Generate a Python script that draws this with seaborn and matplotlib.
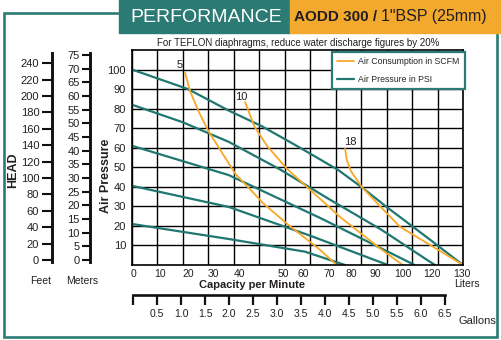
import numpy as np
import pandas as pd
import matplotlib
matplotlib.use("Agg")
import matplotlib.pyplot as plt
from matplotlib.patches import Rectangle
from matplotlib.lines import Line2D
import seaborn as sns

# ---------------- data ----------------
# Air pressure curves (PSI)  x = litres/min, y = air pressure
p100_x = [0, 22, 38, 51, 66, 81, 90, 100, 116, 130]
p100_y = [100, 90, 79, 71, 60, 48.6, 40, 29.7, 14, 0]
p80_x = [0, 20, 38, 58, 77, 98, 116, 119]
p80_y = [82, 73, 63, 49, 34, 18, 2.5, 0]
p60_x = [0, 38, 74, 111]
p60_y = [61, 46, 24, 0]
p40_x = [0, 38, 70, 100.5]
p40_y = [40.5, 29.7, 15, 0]
p20_x = [0, 38, 68, 83.7]
p20_y = [21, 13.3, 6.8, 0]

# Air consumption curves (SCFM)
c5_x = [20.8, 22.8, 26, 29.8, 40.5, 51.6, 60.7, 74, 80.4]
c5_y = [98.6, 89, 79, 69, 46.8, 31.5, 21.3, 7.6, 0]
c10_x = [44.4, 45.7, 48, 53, 60.8, 81.7, 97.4, 106.3]
c10_y = [83.3, 79, 71, 61, 49.3, 24.6, 8.5, 0]
c18_x = [83.7, 84.3, 86, 90.2, 96, 105.3, 118.3, 130]
c18_y = [59.5, 54, 48, 40, 32, 19.5, 9.3, 0]

curve_labels = ["5", "10", "18"]
curve_label_x = [18.9, 43.1, 85.6]
curve_label_y = [102.5, 85.9, 62.9]

x_tick_labels = ["0", "10", "20", "30", "40", "50", "60", "70", "80", "90", "100", "120", "130"]
x_tick_pos = [0.4, 11, 22, 31.8, 42.4, 59.3, 67.2, 77.4, 86, 95.4, 106.4, 117.8, 129.6]
y_ticks = [10, 20, 30, 40, 50, 60, 70, 80, 90, 100]
feet_ticks = list(range(0, 241, 20))
meter_ticks = list(range(0, 76, 5))
gallon_ticks = [0, 0.5, 1.0, 1.5, 2.0, 2.5, 3.0, 3.5, 4.0, 4.5, 5.0, 5.5, 6.0, 6.5]
gallon_labels = [""] + ["%.1f" % g for g in gallon_ticks[1:]]

# ---------------- style ----------------
sns.set_style("white")
plt.rcParams['font.family'] = ['Liberation Sans', 'DejaVu Sans']

TEAL = "#1f7770"
BANNER_TEAL = "#2b7b74"
ORANGE = "#f6a826"
BANNER_ORANGE = "#f2a92e"
DARK = "#231f20"

W, H = 501, 340
fig = plt.figure(figsize=(W / 100, H / 100), dpi=100, facecolor="white")


def fx(px):
    return px / W


def fy(py):
    return 1 - py / H


def rect(x0, y0, x1, y1):
    return [fx(x0), fy(y1), (x1 - x0) / W, (y1 - y0) / H]


# frame and banner
fig.add_artist(Rectangle((fx(4), fy(337)), (497 - 4) / W, (337 - 12.7) / H,
                         transform=fig.transFigure, fill=False,
                         edgecolor=BANNER_TEAL, lw=1.9, zorder=0))
fig.add_artist(Rectangle((fx(119), fy(33)), (290 - 119) / W, 33 / H,
                         transform=fig.transFigure, color=BANNER_TEAL, zorder=1))
fig.add_artist(Rectangle((fx(290), fy(33)), (W - 290) / W, 33 / H,
                         transform=fig.transFigure, color=BANNER_ORANGE, zorder=1))
fig.text(fx(206.5), fy(17), "PERFORMANCE", color="white", fontsize=14,
         ha="center", va="center", zorder=2)
fig.text(fx(294), fy(17), "AODD 300 /", color=DARK, fontsize=11, weight="bold",
         ha="left", va="center", zorder=2)
fig.text(fx(381), fy(17), "1\"BSP (25mm)", color=DARK, fontsize=11.5,
         ha="left", va="center", zorder=2)
fig.text(fx(298.5), fy(43.5), "For TEFLON diaphragms, reduce water discharge figures by 20%",
         color=DARK, fontsize=7, ha="center", va="center")

# ---------------- main axes ----------------
ax = fig.add_axes(rect(132, 50, 463, 265))
ax.set_xlim(0, 130)
ax.set_ylim(0, 110)
ax.set_facecolor("white")

ax.set_xticks(np.arange(0, 131, 10), minor=True)
ax.set_xticks(x_tick_pos)
ax.set_xticklabels(x_tick_labels)
ax.set_yticks(y_ticks)
ax.set_yticklabels([str(v) for v in y_ticks])
ax.grid(which="minor", axis="x", color="black", lw=1.0)
ax.grid(which="major", axis="y", color="black", lw=1.0)
ax.grid(which="major", axis="x", visible=False)
ax.tick_params(axis="both", which="both", length=0)
ax.tick_params(axis="x", pad=3, labelsize=7.5, colors=DARK)
ax.tick_params(axis="y", pad=4.3, labelsize=8, colors=DARK)
for s in ax.spines.values():
    s.set_color("black")
    s.set_linewidth(1.2)
ax.set_axisbelow(True)

for xs, ys in [(p100_x, p100_y), (p80_x, p80_y), (p60_x, p60_y), (p40_x, p40_y), (p20_x, p20_y)]:
    sns.lineplot(x=xs, y=ys, ax=ax, color=TEAL, lw=1.6, sort=False,
                 estimator=None, legend=False)
for xs, ys in [(c5_x, c5_y), (c10_x, c10_y), (c18_x, c18_y)]:
    sns.lineplot(x=xs, y=ys, ax=ax, color=ORANGE, lw=1.3, sort=False,
                 estimator=None, legend=False)
for t, x, y in zip(curve_labels, curve_label_x, curve_label_y):
    ax.text(x, y, t, fontsize=8, color=DARK, ha="center", va="center")

handles = [Line2D([0], [0], color=ORANGE, lw=1.3), Line2D([0], [0], color=TEAL, lw=1.6)]
leg = ax.legend(handles, ["Air Consumption in SCFM", "Air Pressure in PSI"],
                loc="upper right", bbox_to_anchor=((465 - 132) / 331, (265 - 52) / 215),
                borderaxespad=0, fontsize=6.3, frameon=True, fancybox=False,
                framealpha=1, edgecolor=BANNER_TEAL, handlelength=1.9,
                handletextpad=0.55, labelspacing=0.95, borderpad=0.6)
leg.get_frame().set_linewidth(1.6)
ax.set_xlabel("")
ax.set_ylabel("")

# ---------------- head axes (feet / meters) ----------------
def vert_axis(xpx, lo, hi, ticks, ticklen, pad):
    a = fig.add_axes(rect(xpx, 53, xpx + 15, 262))
    a.patch.set_visible(False)
    for k in ["top", "right", "bottom"]:
        a.spines[k].set_visible(False)
    a.spines["left"].set_visible(True)
    a.spines["left"].set_color("#111111")
    a.spines["left"].set_linewidth(2.1)
    a.set_ylim(lo, hi)
    a.set_xticks([])
    a.set_yticks(ticks)
    a.set_yticklabels([str(t) for t in ticks])
    a.tick_params(axis="y", left=True, direction="out", length=ticklen, width=1.5,
                  pad=pad, labelsize=8, colors="#111111", labelcolor=DARK)
    return a


axf = vert_axis(52, -2.44, 252.6, feet_ticks, 7.2, 2)
axm = vert_axis(90, -0.732, 75.73, meter_ticks, 5.8, 1.5)

fig.text(fx(13), fy(170), "HEAD", rotation=90, fontsize=9, weight="bold",
         color=DARK, ha="center", va="center")
fig.text(fx(106), fy(176), "Air Pressure", rotation=90, fontsize=9, weight="bold",
         color=DARK, ha="center", va="center")
fig.text(fx(41), fy(281), "Feet", fontsize=7.5, color=DARK, ha="center", va="center")
fig.text(fx(82), fy(281), "Meters", fontsize=7.5, color=DARK, ha="center", va="center")

# ---------------- gallons axis ----------------
axg = fig.add_axes(rect(133, 280, 445, 295))
axg.patch.set_visible(False)
for k in ["top", "right", "left"]:
    axg.spines[k].set_visible(False)
axg.spines["bottom"].set_visible(True)
axg.spines["bottom"].set_linewidth(1.9)
axg.spines["bottom"].set_color("#111111")
axg.set_xlim(0, 6.5)
axg.set_yticks([])
axg.set_xticks(gallon_ticks)
axg.set_xticklabels(gallon_labels)
axg.tick_params(axis="x", bottom=True, direction="out", length=7.2, width=1.6, pad=3,
                labelsize=7.5, colors="#111111", labelcolor=DARK)

fig.text(fx(252), fy(285), "Capacity per Minute", fontsize=8, weight="bold",
         color=DARK, ha="center", va="center")
fig.text(fx(467), fy(284), "Liters", fontsize=7.5, color=DARK, ha="center", va="center")
fig.text(fx(477), fy(321), "Gallons", fontsize=8, color=DARK, ha="center", va="center")

fig.savefig("out.png", dpi=100, facecolor="white")
